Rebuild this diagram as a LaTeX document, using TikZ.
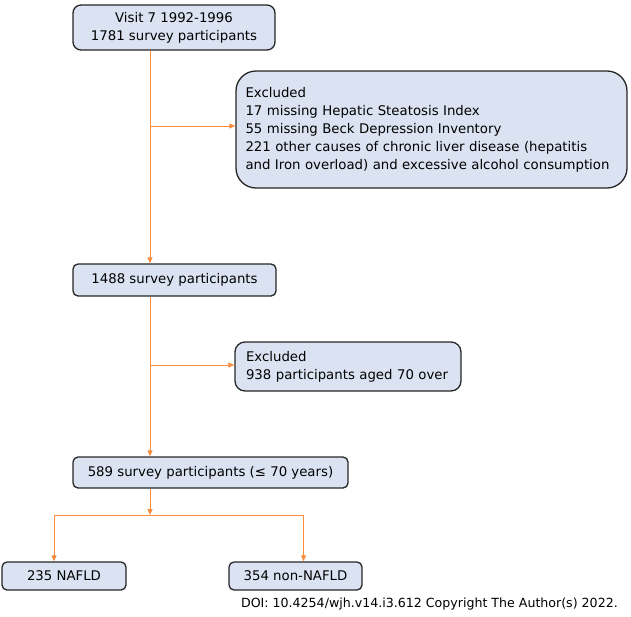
\documentclass[tikz,border=0pt]{standalone}
\usepackage{fontspec}
\setmainfont{DejaVu Sans}
\usepackage{xcolor}
\definecolor{boxfill}{RGB}{219,227,243}
\definecolor{boxline}{RGB}{38,38,38}
\definecolor{flow}{RGB}{250,140,60}
\usetikzlibrary{positioning, calc, shapes, arrows.meta}
\tikzstyle{Box} = [
draw=boxline,
line width=1.3pt,
fill=boxfill,
rounded corners=5pt,
inner sep=0pt,
font=\fontsize{13.3}{18}\selectfont]
\tikzstyle{Flow} = [
flow,
line width=1pt]
\tikzstyle{Arrow} = [
Flow,
-{Triangle[length=6pt, width=5pt]}]

\begin{document}
\begin{tikzpicture}[x=1pt, y=-1pt]
    \useasboundingbox (0,0) rectangle (631,616);
    \coordinate (trunk) at (150,0);

    \node [Box, rounded corners=8pt, minimum width=202pt, minimum height=45pt, align=center] (visit) at (174,27.5)
        {Visit 7 1992-1996\\1781 survey participants};
    \node [Box, rounded corners=20pt, minimum width=391pt, minimum height=117pt, text width=372pt, align=left] (excl1) at (431.5,129.5)
        {Excluded\\17 missing Hepatic Steatosis Index\\55 missing Beck Depression Inventory\\221 other causes of chronic liver disease (hepatitis\\and Iron overload) and excessive alcohol consumption};
    \node [Box, minimum width=203pt, minimum height=32pt] (p1488) at (174.5,280) {1488 survey participants};
    \node [Box, rounded corners=10pt, minimum width=226pt, minimum height=49pt, text width=204pt, align=left] (excl2) at (348,366.5)
        {Excluded\\938 participants aged 70 over};
    \node [Box, minimum width=275pt, minimum height=31pt] (p589) at (210.5,472.5) {589 survey participants (≤ 70 years)};
    \node [Box, minimum width=124pt, minimum height=28pt] (nafld) at (64,576) {235 NAFLD};
    \node [Box, minimum width=133pt, minimum height=28pt] (non) at (295.5,576) {354 non-NAFLD};
    \node [anchor=east, inner sep=0pt, font=\fontsize{12.6}{14}\selectfont] (doi) at (618,604)
        {DOI: 10.4254/wjh.v14.i3.612 Copyright The Author(s) 2022.};

    \coordinate (b1) at (150,126);
    \coordinate (b2) at (150,365);
    \coordinate (split) at (150,515);

    \draw[Arrow] (visit.south -| trunk) -- (p1488.north -| trunk);
    \draw[Arrow] (b1) -- (b1 -| excl1.west);
    \draw[Arrow] (p1488.south -| trunk) -- (p589.north -| trunk);
    \draw[Arrow] (b2) -- (b2 -| excl2.west);
    \draw[Arrow] (p589.south -| trunk) -- (split);
    \draw[Arrow] (split) -| ($(nafld.north)+(-10,0)$);
    \draw[Arrow] (split) -| ($(non.north)+(8,0)$);
\end{tikzpicture}
\end{document}
